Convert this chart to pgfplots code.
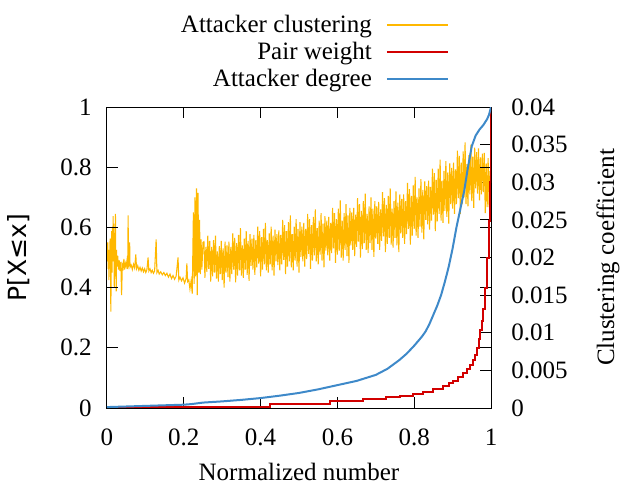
\documentclass[border=0pt]{standalone}
\usepackage{fontspec}
\setmainfont{Liberation Serif}
\newfontfamily\dejavu{DejaVu Sans}
\usepackage{pgfplots}
\pgfplotsset{compat=1.18}

\definecolor{clus}{RGB}{255,184,0}
\definecolor{pairred}{RGB}{210,0,0}
\definecolor{degblue}{RGB}{62,137,201}

% attacker clustering coefficient (right axis)
\pgfplotstableread{
x c
0.000 0.0195
0.002 0.0220
0.003 0.0185
0.004 0.0210
0.005 0.0170
0.006 0.0205
0.007 0.0190
0.008 0.0225
0.009 0.0200
0.010 0.0128
0.011 0.0190
0.012 0.0235
0.013 0.0180
0.014 0.0240
0.015 0.0210
0.016 0.0255
0.017 0.0195
0.018 0.0245
0.019 0.0160
0.020 0.0230
0.021 0.0175
0.022 0.0258
0.023 0.0190
0.024 0.0155
0.025 0.0210
0.026 0.0188
0.028 0.0202
0.030 0.0184
0.032 0.0196
0.034 0.0182
0.036 0.0194
0.038 0.0150
0.040 0.0190
0.042 0.0186
0.044 0.0198
0.046 0.0184
0.048 0.0192
0.050 0.0188
0.052 0.0196
0.054 0.0185
0.055 0.0256
0.056 0.0189
0.058 0.0193
0.059 0.0220
0.060 0.0187
0.063 0.0190
0.066 0.0184
0.069 0.0191
0.072 0.0186
0.075 0.0204
0.077 0.0185
0.080 0.0189
0.083 0.0183
0.086 0.0187
0.089 0.0182
0.092 0.0186
0.095 0.0181
0.098 0.0185
0.101 0.0180
0.104 0.0184
0.107 0.0200
0.109 0.0182
0.112 0.0185
0.115 0.0180
0.118 0.0183
0.121 0.0179
0.124 0.0182
0.128 0.0224
0.130 0.0180
0.133 0.0183
0.136 0.0178
0.140 0.0181
0.144 0.0177
0.148 0.0180
0.152 0.0176
0.156 0.0179
0.160 0.0174
0.164 0.0178
0.168 0.0172
0.172 0.0176
0.176 0.0171
0.180 0.0175
0.185 0.0200
0.187 0.0170
0.190 0.0174
0.194 0.0169
0.198 0.0173
0.202 0.0166
0.206 0.0172
0.208 0.0192
0.210 0.0168
0.213 0.0170
0.216 0.0158
0.219 0.0169
0.222 0.0152
0.225 0.0260
0.227 0.0165
0.229 0.0280
0.231 0.0175
0.233 0.0292
0.235 0.0150
0.237 0.0286
0.239 0.0180
0.241 0.0250
0.243 0.0178
0.245 0.0224
0.247 0.0184
0.2500 0.0220
0.2525 0.0221
0.2550 0.0173
0.2575 0.0214
0.2600 0.0181
0.2625 0.0229
0.2650 0.0185
0.2675 0.0222
0.2700 0.0168
0.2725 0.0214
0.2750 0.0175
0.2775 0.0223
0.2800 0.0180
0.2825 0.0229
0.2850 0.0172
0.2875 0.0208
0.2900 0.0168
0.2925 0.0215
0.2950 0.0178
0.2975 0.0222
0.3000 0.0170
0.3025 0.0212
0.3050 0.0160
0.3075 0.0221
0.3100 0.0180
0.3125 0.0216
0.3150 0.0174
0.3175 0.0221
0.3200 0.0168
0.3225 0.0214
0.3250 0.0178
0.3275 0.0232
0.3300 0.0184
0.3325 0.0226
0.3350 0.0167
0.3375 0.0219
0.3400 0.0176
0.3425 0.0230
0.3450 0.0183
0.3475 0.0239
0.3500 0.0176
0.3525 0.0216
0.3550 0.0173
0.3575 0.0225
0.3600 0.0184
0.3625 0.0235
0.3650 0.0177
0.3675 0.0222
0.3700 0.0169
0.3725 0.0231
0.3750 0.0189
0.3775 0.0225
0.3800 0.0184
0.3825 0.0230
0.3850 0.0177
0.3875 0.0223
0.3900 0.0187
0.3925 0.0241
0.3950 0.0192
0.3975 0.0235
0.4000 0.0175
0.4025 0.0227
0.4050 0.0184
0.4075 0.0238
0.4100 0.0191
0.4125 0.0246
0.4150 0.0183
0.4175 0.0223
0.4200 0.0180
0.4225 0.0232
0.4250 0.0191
0.4275 0.0241
0.4300 0.0183
0.4325 0.0229
0.4350 0.0176
0.4375 0.0237
0.4400 0.0195
0.4425 0.0231
0.4450 0.0190
0.4475 0.0236
0.4500 0.0183
0.4525 0.0230
0.4550 0.0191
0.4575 0.0250
0.4600 0.0197
0.4625 0.0243
0.4650 0.0178
0.4675 0.0235
0.4700 0.0188
0.4725 0.0247
0.4750 0.0195
0.4775 0.0256
0.4800 0.0187
0.4825 0.0231
0.4850 0.0183
0.4875 0.0241
0.4900 0.0196
0.4925 0.0251
0.4950 0.0188
0.4975 0.0238
0.5000 0.0180
0.5025 0.0247
0.5050 0.0201
0.5075 0.0241
0.5100 0.0195
0.5125 0.0246
0.5150 0.0188
0.5175 0.0238
0.5200 0.0198
0.5225 0.0258
0.5250 0.0205
0.5275 0.0251
0.5300 0.0185
0.5325 0.0243
0.5350 0.0196
0.5375 0.0254
0.5400 0.0203
0.5425 0.0264
0.5450 0.0195
0.5475 0.0239
0.5500 0.0191
0.5525 0.0249
0.5550 0.0204
0.5575 0.0259
0.5600 0.0196
0.5625 0.0245
0.5650 0.0187
0.5675 0.0255
0.5700 0.0209
0.5725 0.0249
0.5750 0.0203
0.5775 0.0254
0.5800 0.0196
0.5825 0.0246
0.5850 0.0206
0.5875 0.0266
0.5900 0.0212
0.5925 0.0259
0.5950 0.0193
0.5975 0.0251
0.6000 0.0204
0.6025 0.0265
0.6050 0.0209
0.6075 0.0276
0.6100 0.0200
0.6125 0.0249
0.6150 0.0196
0.6175 0.0259
0.6200 0.0210
0.6225 0.0271
0.6250 0.0202
0.6275 0.0256
0.6300 0.0193
0.6325 0.0266
0.6350 0.0216
0.6375 0.0260
0.6400 0.0210
0.6425 0.0266
0.6450 0.0202
0.6475 0.0257
0.6500 0.0214
0.6525 0.0279
0.6550 0.0221
0.6575 0.0271
0.6600 0.0200
0.6625 0.0262
0.6650 0.0211
0.6675 0.0275
0.6700 0.0219
0.6725 0.0285
0.6750 0.0210
0.6775 0.0258
0.6800 0.0206
0.6825 0.0268
0.6850 0.0219
0.6875 0.0280
0.6900 0.0210
0.6925 0.0265
0.6950 0.0201
0.6975 0.0275
0.7000 0.0225
0.7025 0.0268
0.7050 0.0218
0.7075 0.0274
0.7100 0.0210
0.7125 0.0264
0.7150 0.0222
0.7175 0.0287
0.7200 0.0228
0.7225 0.0279
0.7250 0.0207
0.7275 0.0270
0.7300 0.0218
0.7325 0.0282
0.7350 0.0226
0.7375 0.0292
0.7400 0.0217
0.7425 0.0265
0.7450 0.0213
0.7475 0.0275
0.7500 0.0226
0.7525 0.0288
0.7550 0.0216
0.7575 0.0273
0.7600 0.0207
0.7625 0.0284
0.7650 0.0232
0.7675 0.0278
0.7700 0.0226
0.7725 0.0284
0.7750 0.0218
0.7775 0.0275
0.7800 0.0231
0.7825 0.0299
0.7850 0.0238
0.7875 0.0291
0.7900 0.0217
0.7925 0.0282
0.7950 0.0229
0.7975 0.0296
0.8000 0.0238
0.8025 0.0307
0.8050 0.0229
0.8075 0.0280
0.8100 0.0226
0.8125 0.0292
0.8150 0.0241
0.8175 0.0304
0.8200 0.0233
0.8225 0.0290
0.8250 0.0224
0.8275 0.0301
0.8300 0.0250
0.8325 0.0295
0.8350 0.0244
0.8375 0.0302
0.8400 0.0237
0.8425 0.0294
0.8450 0.0249
0.8475 0.0318
0.8500 0.0257
0.8525 0.0312
0.8550 0.0235
0.8575 0.0303
0.8600 0.0248
0.8625 0.0318
0.8650 0.0258
0.8675 0.0330
0.8700 0.0249
0.8725 0.0302
0.8750 0.0246
0.8775 0.0315
0.8800 0.0262
0.8825 0.0328
0.8850 0.0254
0.8875 0.0313
0.8900 0.0245
0.8925 0.0325
0.8950 0.0271
0.8975 0.0319
0.9000 0.0265
0.9025 0.0326
0.9050 0.0258
0.9075 0.0317
0.9100 0.0271
0.9125 0.0342
0.9150 0.0279
0.9175 0.0335
0.9200 0.0258
0.9225 0.0326
0.9250 0.0271
0.9275 0.0341
0.9300 0.0280
0.9325 0.0353
0.9350 0.0271
0.9375 0.0324
0.9400 0.0268
0.9425 0.0336
0.9450 0.0284
0.9475 0.0350
0.9500 0.0275
0.9525 0.0334
0.9550 0.0266
0.9575 0.0346
0.9600 0.0292
0.9625 0.0340
0.9650 0.0285
0.9675 0.0345
0.9700 0.0276
0.9725 0.0333
0.9750 0.0284
0.9775 0.0338
0.9800 0.0287
0.9825 0.0339
0.9850 0.0259
0.9875 0.0325
0.9900 0.0267
0.9925 0.0332
0.9950 0.0267
0.9975 0.0315
1.0000 0.0280
}\clustering

% CDF of attacker degree
\pgfplotstableread{
x p
0.000 0.003
0.050 0.005
0.100 0.007
0.150 0.009
0.200 0.011
0.220 0.013
0.250 0.018
0.300 0.022
0.350 0.027
0.400 0.033
0.450 0.041
0.500 0.050
0.550 0.062
0.600 0.076
0.650 0.090
0.700 0.110
0.730 0.130
0.760 0.158
0.780 0.180
0.800 0.207
0.820 0.237
0.830 0.255
0.840 0.280
0.850 0.310
0.860 0.340
0.870 0.375
0.880 0.420
0.890 0.470
0.900 0.530
0.910 0.600
0.920 0.660
0.930 0.720
0.940 0.800
0.950 0.870
0.960 0.905
0.970 0.925
0.980 0.940
0.990 0.960
0.995 0.975
1.000 1.000
}\degree

% CDF of pair weight (steps)
\pgfplotstableread{
x p
0.000 0.003
0.424 0.013
0.580 0.023
0.667 0.030
0.727 0.035
0.763 0.041
0.797 0.046
0.823 0.053
0.850 0.063
0.875 0.073
0.890 0.082
0.900 0.091
0.913 0.103
0.927 0.116
0.937 0.130
0.945 0.143
0.952 0.160
0.958 0.176
0.963 0.200
0.968 0.230
0.972 0.260
0.976 0.290
0.980 0.330
0.985 0.400
0.990 0.500
0.994 0.620
0.997 0.750
0.999 0.880
1.000 1.000
}\pairweight

\begin{document}
\begin{tikzpicture}[font=\fontsize{18.75}{22}\selectfont]
\useasboundingbox (-80.25pt,-58.5pt) rectangle (386.25pt,306pt);
\pgfplotsset{
  common/.style={
    scale only axis, width=288pt, height=225.75pt,
    xmin=0, xmax=1,
    axis line style={black, line width=0.75pt},
    every tick/.style={black, line width=0.75pt},
    major tick length=8pt,
    tick align=inside,
  },
}
\begin{axis}[common,
  ymin=0, ymax=0.04,
  hide x axis,
  scaled y ticks=false,
  ytick pos=right, yticklabel pos=right,
  ytick={0,0.005,0.01,0.015,0.02,0.025,0.03,0.035,0.04},
  yticklabels={0,0.005,0.01,0.015,0.02,0.025,0.03,0.035,0.04},
  yticklabel style={anchor=west, inner sep=0pt, xshift=15pt},
  ylabel={Clustering coefficient},
  ylabel style={at={(axis description cs:1.3047,0.5)}, anchor=center, rotate=0},
]
\addplot[clus, line width=0.8pt] table[x=x, y=c] {\clustering};
\end{axis}
\begin{axis}[common,
  ymin=0, ymax=1,
  xtick={0,0.2,0.4,0.6,0.8,1},
  xticklabels={0,0.2,0.4,0.6,0.8,1},
  ytick={0,0.2,0.4,0.6,0.8,1},
  yticklabels={0,0.2,0.4,0.6,0.8,1},
  xticklabel style={anchor=base, inner sep=0pt, yshift=-27.75pt},
  yticklabel style={anchor=east, inner sep=0pt, xshift=-11.25pt},
  xlabel={Normalized number},
  xlabel style={at={(axis description cs:0.5,-0.2425)}, anchor=base},
  ylabel={\dejavu P[X≤x]},
  ylabel style={at={(axis description cs:-0.2309,0.5)}, anchor=center},
  legend plot pos=right,
  legend cell align=right,
  legend style={at={(axis description cs:0.891,1.183)}, anchor=east,
    draw=none, fill=none, inner sep=0pt, row sep=5.5pt, column sep=10.5pt,
    nodes={inner sep=0pt}},
  legend image code/.code={\draw[#1] (0pt,0pt) -- (45.75pt,0pt);},
]
\addlegendimage{color=clus, line width=1.4pt}
\addlegendentry{Attacker clustering}
\addplot[pairred, line width=1.5pt, const plot mark left] table[x=x, y=p] {\pairweight};
\addlegendentry{Pair weight}
\addplot[degblue, line width=1.5pt] table[x=x, y=p] {\degree};
\addlegendentry{Attacker degree}
\end{axis}
\end{tikzpicture}
\end{document}
